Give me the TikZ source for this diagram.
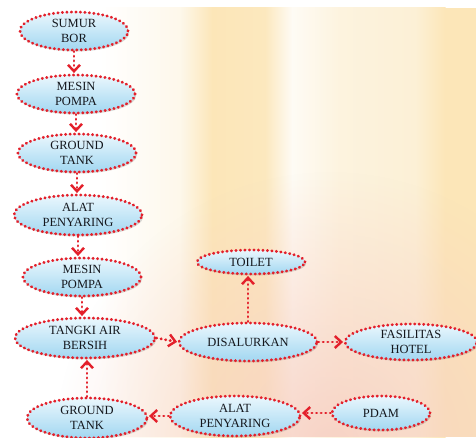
\documentclass[tikz,border=0pt]{standalone}
\usepackage{fontspec}
\setmainfont{Liberation Serif}
\usetikzlibrary{shapes.geometric,arrows.meta,shadows,fadings}
\definecolor{dotred}{HTML}{E3202B}
\definecolor{bluetop}{HTML}{EAF7FD}
\definecolor{bluebot}{HTML}{A2D7F1}
\definecolor{txt}{HTML}{14171D}
\definecolor{cream}{HTML}{FCF0D6}
\definecolor{ylw}{HTML}{FCE6B8}
\definecolor{peach}{HTML}{F7CFC2}
\tikzfading[name=corner, inner color=transparent!0, outer color=transparent!100]
\tikzset{
  flownode/.style={ellipse, draw=dotred, line width=2.9pt, line cap=round,
    dash pattern=on 0.4pt off 4.1pt,
    top color=bluetop, bottom color=bluebot,
    drop shadow={shadow xshift=1.2pt, shadow yshift=-1.5pt, fill=black!50, opacity=0.3},
    inner sep=0pt, align=center, text=txt,
    font=\fontsize{12.5}{14.5}\selectfont},
  flowarrow/.style={draw=dotred, line width=2.8pt, line cap=round,
    dash pattern=on 0.4pt off 4.2pt,
    -{Straight Barb[length=6.5pt,width=12pt,line width=2.4pt]}, shorten >=0.5pt},
  band/.style={draw=none}
}
\begin{document}
\begin{tikzpicture}[x=1pt,y=1pt]
% background
\useasboundingbox (0,0) rectangle (476,437);
\fill[white] (0,0) rectangle (476,437);
\shade[band, left color=white, right color=cream!50!white] (100,0) rectangle (180.5,429);
\shade[band, left color=cream!50!white, right color=ylw] (180,0) rectangle (212.5,429);
\shade[band, left color=ylw, right color=ylw!80!cream] (212,0) rectangle (265.5,429);
\shade[band, left color=ylw!80!cream, right color=white!75!cream] (265,0) rectangle (292.5,429);
\shade[band, left color=white!75!cream, right color=cream!80!white] (292,0) rectangle (340.5,429);
\shade[band, left color=cream!80!white, right color=cream] (340,0) rectangle (415.5,429);
\shade[band, left color=cream, right color=ylw] (415,0) rectangle (445.5,429);
\fill[ylw] (445,0) rectangle (476,429);
\fill[peach, opacity=0.9, path fading=corner, fit fading=false,
  fading transform={shift={(330,-10)}, scale=11}] (0,0) rectangle (476,429);

% nodes
\node[flownode, minimum width=108pt, minimum height=38pt] (sumur) at (74,406) {SUMUR\\BOR};
\node[flownode, minimum width=118pt, minimum height=38pt] (pompa1) at (76,343) {MESIN\\POMPA};
\node[flownode, minimum width=118pt, minimum height=38pt] (ground1) at (77,284) {GROUND\\TANK};
\node[flownode, minimum width=128pt, minimum height=40pt] (saring1) at (78,222) {ALAT\\PENYARING};
\node[flownode, minimum width=118pt, minimum height=38pt] (pompa2) at (82,160) {MESIN\\POMPA};
\node[flownode, minimum width=140pt, minimum height=40pt] (tangki) at (85,99) {TANGKI AIR\\BERSIH};
\node[flownode, minimum width=120pt, minimum height=40pt] (ground2) at (87,19) {GROUND\\TANK};
\node[flownode, minimum width=138pt, minimum height=38pt] (salur) at (248,95) {DISALURKAN};
\node[flownode, minimum width=108pt, minimum height=24pt] (toilet) at (251,175) {TOILET};
\node[flownode, minimum width=132pt, minimum height=36pt] (hotel) at (411,95) {FASILITAS\\HOTEL};
\node[flownode, minimum width=130pt, minimum height=40pt] (saring2) at (235,21) {ALAT\\PENYARING};
\node[flownode, minimum width=98pt, minimum height=34pt] (pdam) at (381,24) {PDAM};

% connectors
\draw[flowarrow] (sumur.south) -- (sumur.south |- pompa1.north);
\draw[flowarrow] (pompa1.south) -- (pompa1.south |- ground1.north);
\draw[flowarrow] (ground1.south) -- (ground1.south |- saring1.north);
\draw[flowarrow] (saring1.south) -- (saring1.south |- pompa2.north);
\draw[flowarrow] (pompa2.south) -- (pompa2.south |- tangki.north);
\draw[flowarrow] (ground2.north) -- (ground2.north |- tangki.south);
\draw[flowarrow] (tangki.east) -- (salur.west);
\draw[flowarrow] (salur.north) -- (salur.north |- toilet.south);
\draw[flowarrow] (salur.east) -- (hotel.west);
\draw[flowarrow] (pdam.west) -- (saring2.east |- pdam.west);
\draw[flowarrow] (saring2.west) -- (ground2.east |- saring2.west);
\end{tikzpicture}
\end{document}
